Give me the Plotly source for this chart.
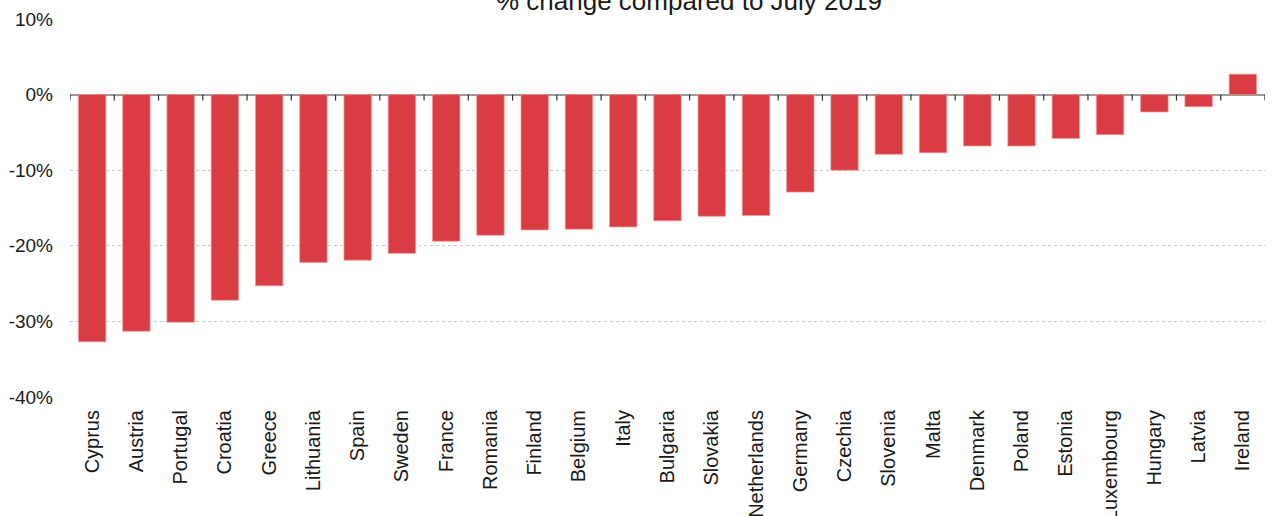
import plotly.graph_objects as go

countries = ["Cyprus", "Austria", "Portugal", "Croatia", "Greece", "Lithuania", "Spain",
             "Sweden", "France", "Romania", "Finland", "Belgium", "Italy", "Bulgaria",
             "Slovakia", "Netherlands", "Germany", "Czechia", "Slovenia", "Malta",
             "Denmark", "Poland", "Estonia", "Luxembourg", "Hungary", "Latvia", "Ireland"]
change_pct = [-32.7, -31.3, -30.1, -27.2, -25.3, -22.2, -21.9, -21.0, -19.4, -18.6,
              -17.9, -17.8, -17.5, -16.7, -16.1, -16.0, -12.9, -10.0, -7.9, -7.7,
              -6.8, -6.8, -5.8, -5.3, -2.3, -1.6, 2.7]
y_ticks = [10, 0, -10, -20, -30, -40]
y_tick_labels = ["10%", "0%", "-10%", "-20%", "-30%", "-40%"]
title_text = "% change compared to July 2019"

FONT = "Liberation Sans, Arial, sans-serif"
BAR_RED = "#d93d43"

fig = go.Figure(
    go.Bar(
        x=countries,
        y=change_pct,
        marker=dict(color=BAR_RED, line=dict(color="rgba(238,150,155,0.9)", width=0.8)),
        hoverinfo="x+y",
    )
)

# small tick marks hanging below the zero line at category boundaries
tick_shapes = [
    dict(type="line", xref="x", yref="y", ysizemode="pixel", yanchor=0,
         x0=i - 0.5, x1=i - 0.5, y0=0, y1=-6,
         line=dict(color="#333", width=1.2), layer="above")
    for i in range(len(countries) + 1)
]

fig.update_layout(
    width=1274,
    height=516,
    margin=dict(l=70, r=9, t=19, b=119, autoexpand=False),
    paper_bgcolor="white",
    plot_bgcolor="white",
    bargap=0.38,
    showlegend=False,
    font=dict(family=FONT, size=19, color="#1a1a1a"),
    shapes=tick_shapes,
    annotations=[
        dict(text=title_text, xref="paper", yref="paper", x=0.518, y=1.0,
             yanchor="bottom", xanchor="center", yshift=1, showarrow=False,
             font=dict(family=FONT, size=26, color="#1a1a1a"))
    ],
)

fig.update_xaxes(
    type="category",
    automargin=False,
    tickangle=-90,
    showgrid=False,
    showline=False,
    ticks="",
    ticklabelstandoff=8,
    tickfont=dict(family=FONT, size=20, color="#1a1a1a"),
    range=[-0.5, len(countries) - 0.5],
)

fig.update_yaxes(
    automargin=False,
    range=[-40, 10],
    tickvals=y_ticks,
    ticktext=y_tick_labels,
    showgrid=True,
    gridcolor="#c8c8c8",
    griddash="dot",
    gridwidth=1,
    zeroline=True,
    zerolinecolor="#999999",
    zerolinewidth=2,
    showline=False,
    ticks="",
    ticklabelstandoff=16,
    tickfont=dict(family=FONT, size=19, color="#1a1a1a"),
)

fig.write_html("out.html")
